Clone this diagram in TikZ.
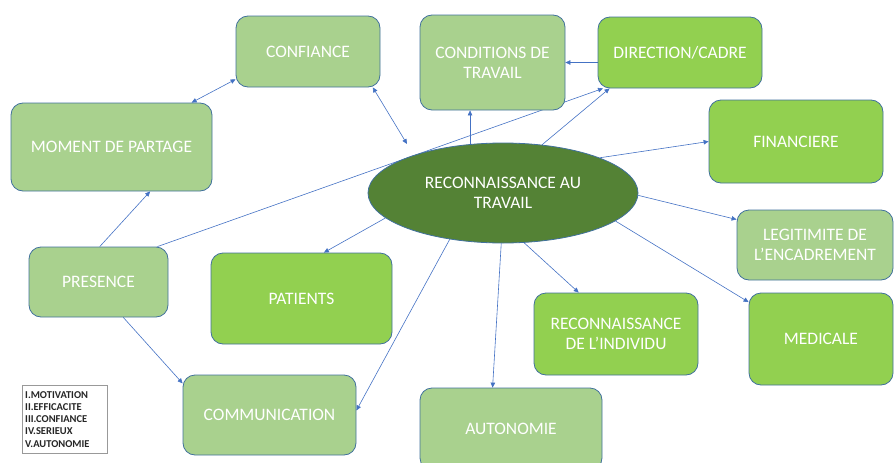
\documentclass[tikz,border=0pt]{standalone}
\usepackage{fontspec}
\setmainfont{Carlito}
\usetikzlibrary{shapes.geometric,arrows.meta,backgrounds,shadows}
\definecolor{lg}{HTML}{A9D18E}
\definecolor{bgr}{HTML}{92D050}
\definecolor{dg}{HTML}{548235}
\definecolor{bd}{HTML}{41719C}
\definecolor{ar}{HTML}{4472C4}
\begin{document}
\begin{tikzpicture}[x=1pt,y=-1pt,
  box/.style={draw=bd, line width=0.8pt, rounded corners=12pt, text=white,
    font=\fontsize{17.5}{20}\selectfont, align=center, inner sep=0pt},
  light/.style={box, fill=lg},
  bright/.style={box, fill=bgr},
  arr/.style={draw=ar, line width=0.6pt, -{Triangle[length=5pt,width=4.5pt]}},
  darr/.style={draw=ar, line width=0.6pt, {Triangle[length=5pt,width=4.5pt]}-{Triangle[length=5pt,width=4.5pt]}}
]
\useasboundingbox (0,0) rectangle (894,463);
\clip (0,0) rectangle (894,463);

% nodes
\node[light, minimum width=144pt, minimum height=71pt] (conf) at (308,51.5) {CONFIANCE};
\node[light, minimum width=201pt, minimum height=88pt] (moment) at (111.5,147) {MOMENT DE PARTAGE};
\node[light, minimum width=145pt, minimum height=95pt] (cond) at (492.5,62.5) {CONDITIONS DE\\TRAVAIL};
\node[bright, minimum width=164pt, minimum height=71pt] (dir) at (680,52.5) {DIRECTION/CADRE};
\node[bright, minimum width=174pt, minimum height=83pt] (fin) at (796,141.5) {FINANCIERE};
\node[light, minimum width=156pt, minimum height=70pt] (legit) at (815,245) {LEGITIMITE DE\\L’ENCADREMENT};
\node[bright, minimum width=144pt, minimum height=92pt] (med) at (821,339) {MEDICALE};
\node[bright, minimum width=164pt, minimum height=82pt] (indiv) at (616,334) {RECONNAISSANCE\\DE L’INDIVIDU};
\node[light, minimum width=182pt, minimum height=82pt] (auto) at (511,429) {AUTONOMIE};
\node[light, minimum width=139pt, minimum height=70pt] (pres) at (98.5,282) {PRESENCE};
\node[bright, minimum width=181pt, minimum height=91pt] (pat) at (301.5,298.5) {PATIENTS};
\node[light, minimum width=173pt, minimum height=80pt] (comm) at (269.5,415) {COMMUNICATION};
\node[ellipse, draw=bd, line width=0.8pt, fill=dg, minimum width=270pt, minimum height=100pt,
  inner sep=0pt, text=white, align=center, font=\fontsize{17.5}{20}\selectfont] (ell) at (503,193)
  {RECONNAISSANCE AU\\TRAVAIL};

\node[draw=black!40, fill=white, drop shadow={opacity=0.2, shadow xshift=1.2pt, shadow yshift=-1.2pt},
  anchor=north west, text width=79pt, inner xsep=3pt, inner ysep=3pt, minimum height=68pt,
  font=\fontsize{10.5}{12.2}\selectfont\bfseries, text=black!85, align=left] (leg) at (22,385)
  {I.MOTIVATION\\II.EFFICACITE\\III.CONFIANCE\\IV.SERIEUX\\V.AUTONOMIE};

% connectors
\begin{scope}[on background layer]
\draw[darr, shorten >=13pt] (conf.-29.7) -- (ell.157);
\draw[darr] (conf.-159) -- (moment.29);
\draw[arr] (ell.124) -- (ell.124 |- cond.south);
\draw[arr] (dir.west |- cond.east) -- (cond.east);
\draw[arr] (ell.51) -- (dir.-153);
\draw[arr] (pres.31.6) -- (dir.-155.5);
\draw[arr] (pres.88) -- (moment.-49.6);
\draw[arr] (ell.20) -- (fin.west);
\draw[arr] (ell.-1) -- (legit.162.4);
\draw[arr] (ell.-14.5) -- (med.153.7);
\draw[arr] (ell.-67.8) -- (indiv.132.8);
\draw[arr] (ell.-92) -- (auto.114.2);
\draw[arr] (ell.-139.2) -- (comm.3.9);
\draw[arr] (ell.-168.8) -- (pat.64.6);
\draw[arr] (pres.-55) -- (comm.160.9);
\end{scope}
\end{tikzpicture}
\end{document}
